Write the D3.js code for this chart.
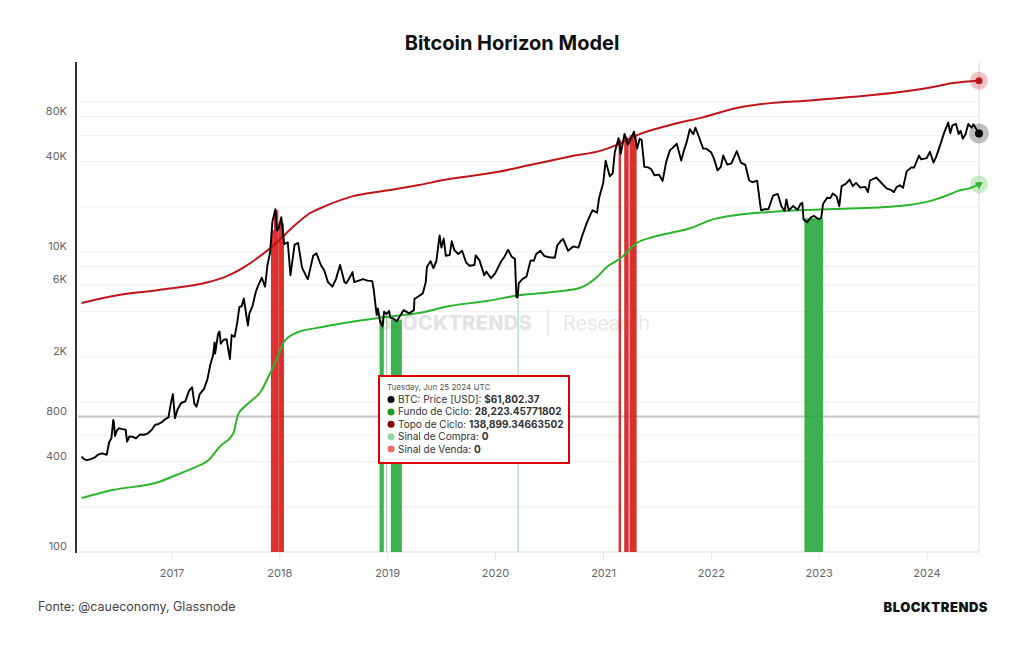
<!DOCTYPE html>
<html lang="pt">
<head>
<meta charset="UTF-8">
<title>Bitcoin Horizon Model</title>
<script src="https://d3js.org/d3.v7.min.js"></script>
<style>
  body { margin: 0; background: #fff; font-family: Inter, "Open Sans", sans-serif; }
  svg { display: block; }
</style>
</head>
<body>
<svg width="1024" height="645"></svg>
<script>
// BTC preço (USD)
const btcPrice = [
  ["2016-03-01",432],["2016-03-10",415],["2016-03-20",410],["2016-04-01",416],["2016-04-15",428],["2016-04-28",448],
  ["2016-05-10",455],["2016-05-25",445],["2016-06-02",537],["2016-06-10",575],["2016-06-16",760],["2016-06-18",740],
  ["2016-06-22",595],["2016-06-28",645],["2016-07-06",670],["2016-07-15",660],["2016-07-28",655],["2016-08-02",545],
  ["2016-08-10",590],["2016-08-22",585],["2016-09-01",572],["2016-09-15",608],["2016-09-28",605],["2016-10-10",615],
  ["2016-10-25",655],["2016-11-05",705],["2016-11-15",712],["2016-11-28",735],["2016-12-10",770],["2016-12-20",790],
  ["2016-12-28",975],
  ["2017-01-04",1130],["2017-01-11",780],["2017-01-20",895],["2017-02-01",985],["2017-02-15",1010],["2017-02-28",1190],
  ["2017-03-10",1255],["2017-03-18",970],["2017-03-25",930],["2017-04-05",1130],["2017-04-20",1230],["2017-05-01",1420],
  ["2017-05-10",1750],["2017-05-20",2050],["2017-05-25",2500],["2017-05-27",2100],["2017-06-06",2850],["2017-06-11",2950],
  ["2017-06-15",2450],["2017-06-25",2600],["2017-07-05",2620],["2017-07-16",1930],["2017-07-22",2800],["2017-08-01",2720],
  ["2017-08-10",3400],["2017-08-17",4300],["2017-08-25",4350],["2017-09-01",4900],["2017-09-15",3230],["2017-09-20",3900],
  ["2017-10-01",4400],["2017-10-12",5450],["2017-10-20",6000],["2017-11-01",6740],["2017-11-12",5880],["2017-11-20",8150],
  ["2017-11-29",9900],["2017-12-07",16000],["2017-12-17",19300],["2017-12-22",13900],["2017-12-28",14400],
  ["2018-01-06",17100],["2018-01-16",11300],["2018-01-28",11600],["2018-02-06",7000],["2018-02-20",11200],["2018-03-04",11500],
  ["2018-03-17",7900],["2018-04-01",6850],["2018-04-06",6600],["2018-04-24",9450],["2018-05-05",9800],["2018-05-20",8200],
  ["2018-06-01",7500],["2018-06-13",6300],["2018-06-28",5880],["2018-07-10",6600],["2018-07-24",8200],["2018-08-08",6300],
  ["2018-08-14",6200],["2018-08-30",7000],["2018-09-04",7350],["2018-09-10",6300],["2018-09-25",6450],["2018-10-10",6600],
  ["2018-10-25",6450],["2018-11-10",6400],["2018-11-15",5600],["2018-11-20",4600],["2018-11-25",3800],["2018-11-29",4200],
  ["2018-12-07",3400],["2018-12-15",3200],["2018-12-20",4000],["2018-12-28",3850],
  ["2019-01-06",4050],["2019-01-10",3650],["2019-01-20",3600],["2019-02-01",3450],["2019-02-08",3650],["2019-02-19",3950],
  ["2019-02-24",4100],["2019-03-15",3900],["2019-03-31",4100],["2019-04-02",4880],["2019-04-15",5050],["2019-04-30",5300],
  ["2019-05-10",6300],["2019-05-14",7950],["2019-05-26",8700],["2019-06-05",7800],["2019-06-15",8700],["2019-06-26",12900],
  ["2019-07-02",10700],["2019-07-10",12300],["2019-07-17",9450],["2019-07-30",9550],["2019-08-06",11800],["2019-08-15",10300],
  ["2019-08-28",9700],["2019-09-10",10200],["2019-09-24",8500],["2019-10-05",8100],["2019-10-22",8200],["2019-10-26",9500],
  ["2019-11-08",8800],["2019-11-24",7000],["2019-12-01",7400],["2019-12-17",6700],["2019-12-31",7200],
  ["2020-01-10",7900],["2020-01-20",8650],["2020-02-01",9350],["2020-02-13",10350],["2020-02-25",9300],["2020-03-07",9000],
  ["2020-03-12",5000],["2020-03-16",5000],["2020-03-20",6200],["2020-04-01",6600],["2020-04-15",6850],["2020-04-29",8800],
  ["2020-05-10",8750],["2020-05-18",9700],["2020-06-01",10200],["2020-06-15",9400],["2020-07-01",9230],["2020-07-20",9160],
  ["2020-07-28",11050],["2020-08-10",11900],["2020-08-17",12250],["2020-09-03",10200],["2020-09-20",10900],["2020-10-08",10700],
  ["2020-10-21",12900],["2020-11-05",15600],["2020-11-17",17700],["2020-11-25",19000],["2020-12-10",18300],["2020-12-17",23000],
  ["2020-12-31",29000],
  ["2021-01-08",40600],["2021-01-22",32000],["2021-02-01",33500],["2021-02-08",46300],["2021-02-21",57500],["2021-02-28",45200],
  ["2021-03-13",61200],["2021-03-25",52000],["2021-04-14",63500],["2021-04-25",49000],["2021-05-03",57000],["2021-05-10",55800],
  ["2021-05-19",37000],["2021-06-01",36700],["2021-06-12",35600],["2021-06-22",32500],["2021-07-08",32800],["2021-07-20",29800],
  ["2021-08-01",39900],["2021-08-14",47800],["2021-08-22",49300],["2021-09-06",52700],["2021-09-21",40700],["2021-10-01",48200],
  ["2021-10-10",54700],["2021-10-20",66000],["2021-11-01",61000],["2021-11-08",67500],["2021-11-20",58500],["2021-12-04",49000],
  ["2021-12-15",48900],["2021-12-31",46300],
  ["2022-01-10",41800],["2022-01-22",35000],["2022-02-02",37000],["2022-02-10",44000],["2022-02-24",38300],["2022-03-10",39000],
  ["2022-03-28",47100],["2022-04-11",39500],["2022-04-26",38100],["2022-05-09",30000],["2022-05-20",29200],["2022-06-05",29900],
  ["2022-06-13",22500],["2022-06-18",19000],["2022-07-01",19300],["2022-07-13",19300],["2022-07-29",23800],["2022-08-14",24400],
  ["2022-08-26",20200],["2022-09-06",18800],["2022-09-12",22400],["2022-09-20",18900],["2022-10-05",20300],["2022-10-20",19100],
  ["2022-10-29",20800],["2022-11-05",21300],["2022-11-09",16500],["2022-11-21",15800],["2022-12-05",17100],["2022-12-15",17400],
  ["2022-12-31",16550],
  ["2023-01-08",16950],["2023-01-14",20900],["2023-01-28",23000],["2023-02-08",22900],["2023-02-16",24600],["2023-03-01",23500],
  ["2023-03-10",20200],["2023-03-18",27500],["2023-04-01",28500],["2023-04-14",30400],["2023-04-25",27500],["2023-05-06",28900],
  ["2023-05-20",26900],["2023-06-06",27200],["2023-06-15",25100],["2023-06-22",30000],["2023-07-13",31400],["2023-07-28",29300],
  ["2023-08-17",26600],["2023-08-31",26000],["2023-09-11",25100],["2023-09-20",27100],["2023-10-01",27900],["2023-10-12",26800],
  ["2023-10-24",34500],["2023-11-09",36700],["2023-11-18",36600],["2023-12-05",44000],["2023-12-12",41500],["2023-12-31",42300],
  ["2024-01-11",46600],["2024-01-23",39500],["2024-02-01",43100],["2024-02-15",52000],["2024-02-28",62500],["2024-03-13",73000],
  ["2024-03-20",62000],["2024-03-27",70000],["2024-04-08",71600],["2024-04-17",61300],["2024-04-24",64300],["2024-05-01",57000],
  ["2024-05-10",60800],["2024-05-20",71400],["2024-05-31",67500],["2024-06-06",71100],["2024-06-18",65200],["2024-06-25",61802.37]
];

// Fundo de Ciclo
const fundoCiclo = [
  ["2016-03-01",229],["2016-06-14",259],["2016-11-17",293],["2017-01-15",326],["2017-03-23",369],["2017-05-05",410],
  ["2017-06-10",501],["2017-07-28",621],["2017-08-12",819],["2017-09-10",955],["2017-11-01",1202],["2017-11-23",1468],
  ["2017-12-20",1905],["2018-01-15",2512],["2018-02-24",2884],["2018-05-25",3162],["2018-12-28",3690],["2019-04-17",3920],
  ["2019-07-30",4365],["2019-12-01",4710],["2020-03-26",5165],["2020-07-13",5410],["2020-10-12",5754],["2020-12-10",6810],
  ["2021-01-12",7940],["2021-03-01",9120],["2021-04-23",11480],["2021-06-18",12590],["2021-08-15",13390],["2021-10-24",14450],
  ["2021-12-29",16330],["2022-03-28",17660],["2022-07-20",18490],["2022-11-07",19050],["2023-02-17",19340],["2023-10-01",20270],
  ["2024-01-22",22200],["2024-03-12",23990],["2024-04-13",25500],["2024-05-27",26700],["2024-06-25",28223.45771802]
];

// Topo de Ciclo
const topoCiclo = [
  ["2016-03-01",4570],["2016-07-05",5165],["2016-11-17",5580],["2017-05-05",6310],["2017-06-28",6810],["2017-08-28",7820],
  ["2017-10-22",9260],["2017-12-20",11480],["2018-02-14",14680],["2018-04-10",18000],["2018-06-05",20300],["2018-09-06",23600],
  ["2018-12-28",25700],["2019-04-17",27980],["2019-07-08",30200],["2020-01-01",34000],["2020-05-01",38200],["2020-09-09",43300],
  ["2021-01-01",48000],["2021-02-28",53300],["2021-04-23",60000],["2021-08-15",70300],["2021-12-06",79400],["2022-03-28",91200],
  ["2022-07-20",98400],["2022-11-07",101600],["2023-04-16",108000],["2023-10-01",116600],["2024-01-22",126000],
  ["2024-03-29",134000],["2024-06-25",138899.34663502]
];

// Sinal de Compra: [início, fim, preço no topo da coluna]
const sinalCompra = [
  ["2018-12-05","2018-12-19",3500],["2018-12-27","2018-12-28",3700],["2019-01-12","2019-02-18",3550],
  ["2020-03-16","2020-03-17",5000],["2022-11-12","2023-01-14",16800]
];
// Sinal de Venda
const sinalVenda = [
  ["2017-12-02","2017-12-12",14000],["2017-12-12","2017-12-27",19000],["2017-12-27","2018-01-15",15500],
  ["2021-02-21","2021-03-01",56000],["2021-03-12","2021-03-27",58000],["2021-03-30","2021-04-23",60000]
];

const yTickValues = [100, 200, 400, 600, 800, 1000, 2000, 4000, 6000, 8000, 10000, 20000, 40000, 60000, 80000, 100000];
const yLabelValues = [100, 400, 800, 2000, 6000, 10000, 40000, 80000];
const xYears = [2017, 2018, 2019, 2020, 2021, 2022, 2023, 2024];

const tooltipDate = "Tuesday, Jun 25 2024 UTC";
const tooltipRows = [
  ["BTC: Price [USD]: ", "$61,802.37", "#000000"],
  ["Fundo de Ciclo: ", "28,223.45771802", "#1e9a1e"],
  ["Topo de Ciclo: ", "138,899.34663502", "#8b0000"],
  ["Sinal de Compra: ", "0", "#8fd9a0"],
  ["Sinal de Venda: ", "0", "#ee6b6b"]
];

const parse = d3.utcParse("%Y-%m-%d");
const svg = d3.select("svg");

const plotLeft = 78, plotRight = 979, plotTop = 62, plotBottom = 552;

const x = d3.scaleUtc()
  .domain([new Date(Date.UTC(2017, 0, 1)), new Date(Date.UTC(2024, 0, 1))])
  .range([172, 927]);
const y = d3.scaleLog().domain([100, 185000]).range([plotBottom, plotTop]);

// título
svg.append("text")
  .attr("x", 512).attr("y", 50)
  .attr("text-anchor", "middle")
  .attr("font-size", 20).attr("font-weight", 700)
  .attr("fill", "#111")
  .text("Bitcoin Horizon Model");

// grade
svg.append("g").selectAll("line")
  .data(yTickValues)
  .join("line")
  .attr("x1", plotLeft).attr("x2", plotRight)
  .attr("y1", d => y(d)).attr("y2", d => y(d))
  .attr("stroke", d => d === 800 ? "#c4c4c4" : "#efefef")
  .attr("stroke-width", d => d === 800 ? 2 : 1);

// marca d'água
const wm = svg.append("g").attr("fill", "#e4e4e4");
wm.append("text").attr("x", 532).attr("y", 330).attr("text-anchor", "end")
  .attr("font-size", 20).attr("font-weight", 800).attr("letter-spacing", 0.3).text("BLOCKTRENDS");
wm.append("line").attr("x1", 548).attr("x2", 548).attr("y1", 309).attr("y2", 336)
  .attr("stroke", "#e4e4e4").attr("stroke-width", 1.5);
wm.append("text").attr("x", 563).attr("y", 330)
  .attr("font-size", 20).attr("font-weight", 300).text("Research");

// rótulos eixo y
svg.append("g").selectAll("text")
  .data(yLabelValues)
  .join("text")
  .attr("x", 67).attr("y", d => y(d) - 2)
  .attr("text-anchor", "end")
  .attr("font-size", 11).attr("fill", "#666")
  .text(d => d >= 1000 ? (d / 1000) + "K" : d);

// eixo x
const xAxis = svg.append("g");
xAxis.append("line").attr("x1", plotLeft).attr("x2", plotRight).attr("y1", plotBottom).attr("y2", plotBottom)
  .attr("stroke", "#e3e3e3");
xAxis.selectAll("line.tick")
  .data(xYears)
  .join("line")
  .attr("class", "tick")
  .attr("x1", d => x(new Date(Date.UTC(d, 0, 1)))).attr("x2", d => x(new Date(Date.UTC(d, 0, 1))))
  .attr("y1", plotBottom).attr("y2", plotBottom + 8)
  .attr("stroke", "#e3e3e3");
xAxis.selectAll("text")
  .data(xYears)
  .join("text")
  .attr("x", d => x(new Date(Date.UTC(d, 0, 1))))
  .attr("y", 577)
  .attr("text-anchor", "middle")
  .attr("font-size", 11).attr("fill", "#666")
  .text(d => d);

// sinais
function drawSignals(data, color) {
  svg.append("g").selectAll("rect")
    .data(data)
    .join("rect")
    .attr("x", d => x(parse(d[0])))
    .attr("width", d => Math.max(1, x(parse(d[1])) - x(parse(d[0]))))
    .attr("y", d => y(d[2]))
    .attr("height", d => plotBottom - y(d[2]))
    .attr("fill", color)
    .attr("fill-opacity", d => (x(parse(d[1])) - x(parse(d[0]))) < 2 ? 0.45 : 0.9);
}
drawSignals(sinalCompra, "#27a83c");
drawSignals(sinalVenda, "#d61a1a");

// crosshair
svg.append("line").attr("x1", plotRight).attr("x2", plotRight).attr("y1", plotTop).attr("y2", plotBottom)
  .attr("stroke", "#dcdcdc").attr("stroke-width", 1);

// eixo y (linha)
svg.append("line").attr("x1", 76).attr("x2", 76).attr("y1", plotTop).attr("y2", plotBottom + 1)
  .attr("stroke", "#333").attr("stroke-width", 2);

// linhas
const line = d3.line().x(d => x(parse(d[0]))).y(d => y(d[1]));
const smooth = d3.line().curve(d3.curveMonotoneX).x(d => x(parse(d[0]))).y(d => y(d[1]));
svg.append("path").datum(topoCiclo).attr("d", smooth)
  .attr("fill", "none").attr("stroke", "#c0141b").attr("stroke-width", 2);
svg.append("path").datum(fundoCiclo).attr("d", smooth)
  .attr("fill", "none").attr("stroke", "#2cb52c").attr("stroke-width", 2);
svg.append("path").datum(btcPrice).attr("d", line)
  .attr("fill", "none").attr("stroke", "#000").attr("stroke-width", 1.9).attr("stroke-linejoin", "round");

// marcadores finais
const lastTopo = topoCiclo[topoCiclo.length - 1];
const lastBtc = btcPrice[btcPrice.length - 1];
const lastFundo = fundoCiclo[fundoCiclo.length - 1];
const mk = svg.append("g");
mk.append("circle").attr("cx", x(parse(lastTopo[0]))).attr("cy", y(lastTopo[1])).attr("r", 9)
  .attr("fill", "#c0141b").attr("fill-opacity", 0.25);
mk.append("circle").attr("cx", x(parse(lastTopo[0]))).attr("cy", y(lastTopo[1])).attr("r", 3.5)
  .attr("fill", "#c0141b");
mk.append("circle").attr("cx", x(parse(lastBtc[0]))).attr("cy", y(lastBtc[1])).attr("r", 10)
  .attr("fill", "#000").attr("fill-opacity", 0.25);
mk.append("circle").attr("cx", x(parse(lastBtc[0]))).attr("cy", y(lastBtc[1])).attr("r", 4)
  .attr("fill", "#000");
mk.append("circle").attr("cx", x(parse(lastFundo[0]))).attr("cy", y(lastFundo[1])).attr("r", 9)
  .attr("fill", "#2cb52c").attr("fill-opacity", 0.25);
mk.append("path")
  .attr("d", d3.symbol(d3.symbolTriangle, 28))
  .attr("transform", `translate(${x(parse(lastFundo[0]))},${y(lastFundo[1])}) rotate(180)`)
  .attr("fill", "#2cb52c");

// tooltip
const tt = svg.append("g").attr("transform", "translate(379,376)");
tt.append("rect").attr("width", 190).attr("height", 87)
  .attr("fill", "#fff").attr("stroke", "#e00000").attr("stroke-width", 2);
tt.append("text").attr("x", 8).attr("y", 14).attr("font-size", 8).attr("fill", "#555").text(tooltipDate);
tooltipRows.forEach((r, i) => {
  const yy = 27 + i * 12.4;
  tt.append("circle").attr("cx", 12).attr("cy", yy - 3.5).attr("r", 3.5).attr("fill", r[2]);
  const t = tt.append("text").attr("x", 19).attr("y", yy).attr("font-size", 10).attr("fill", "#333");
  t.append("tspan").text(r[0]);
  t.append("tspan").attr("font-weight", 700).text(r[1]);
});

// rodapé
svg.append("text").attr("x", 38).attr("y", 611)
  .attr("font-size", 12.5).attr("fill", "#444").text("Fonte: @caueconomy, Glassnode");
svg.append("text").attr("x", 988).attr("y", 612).attr("text-anchor", "end")
  .attr("font-size", 13).attr("font-weight", 900).attr("letter-spacing", 0.5).attr("fill", "#111")
  .text("BLOCKTRENDS");
</script>
</body>
</html>
